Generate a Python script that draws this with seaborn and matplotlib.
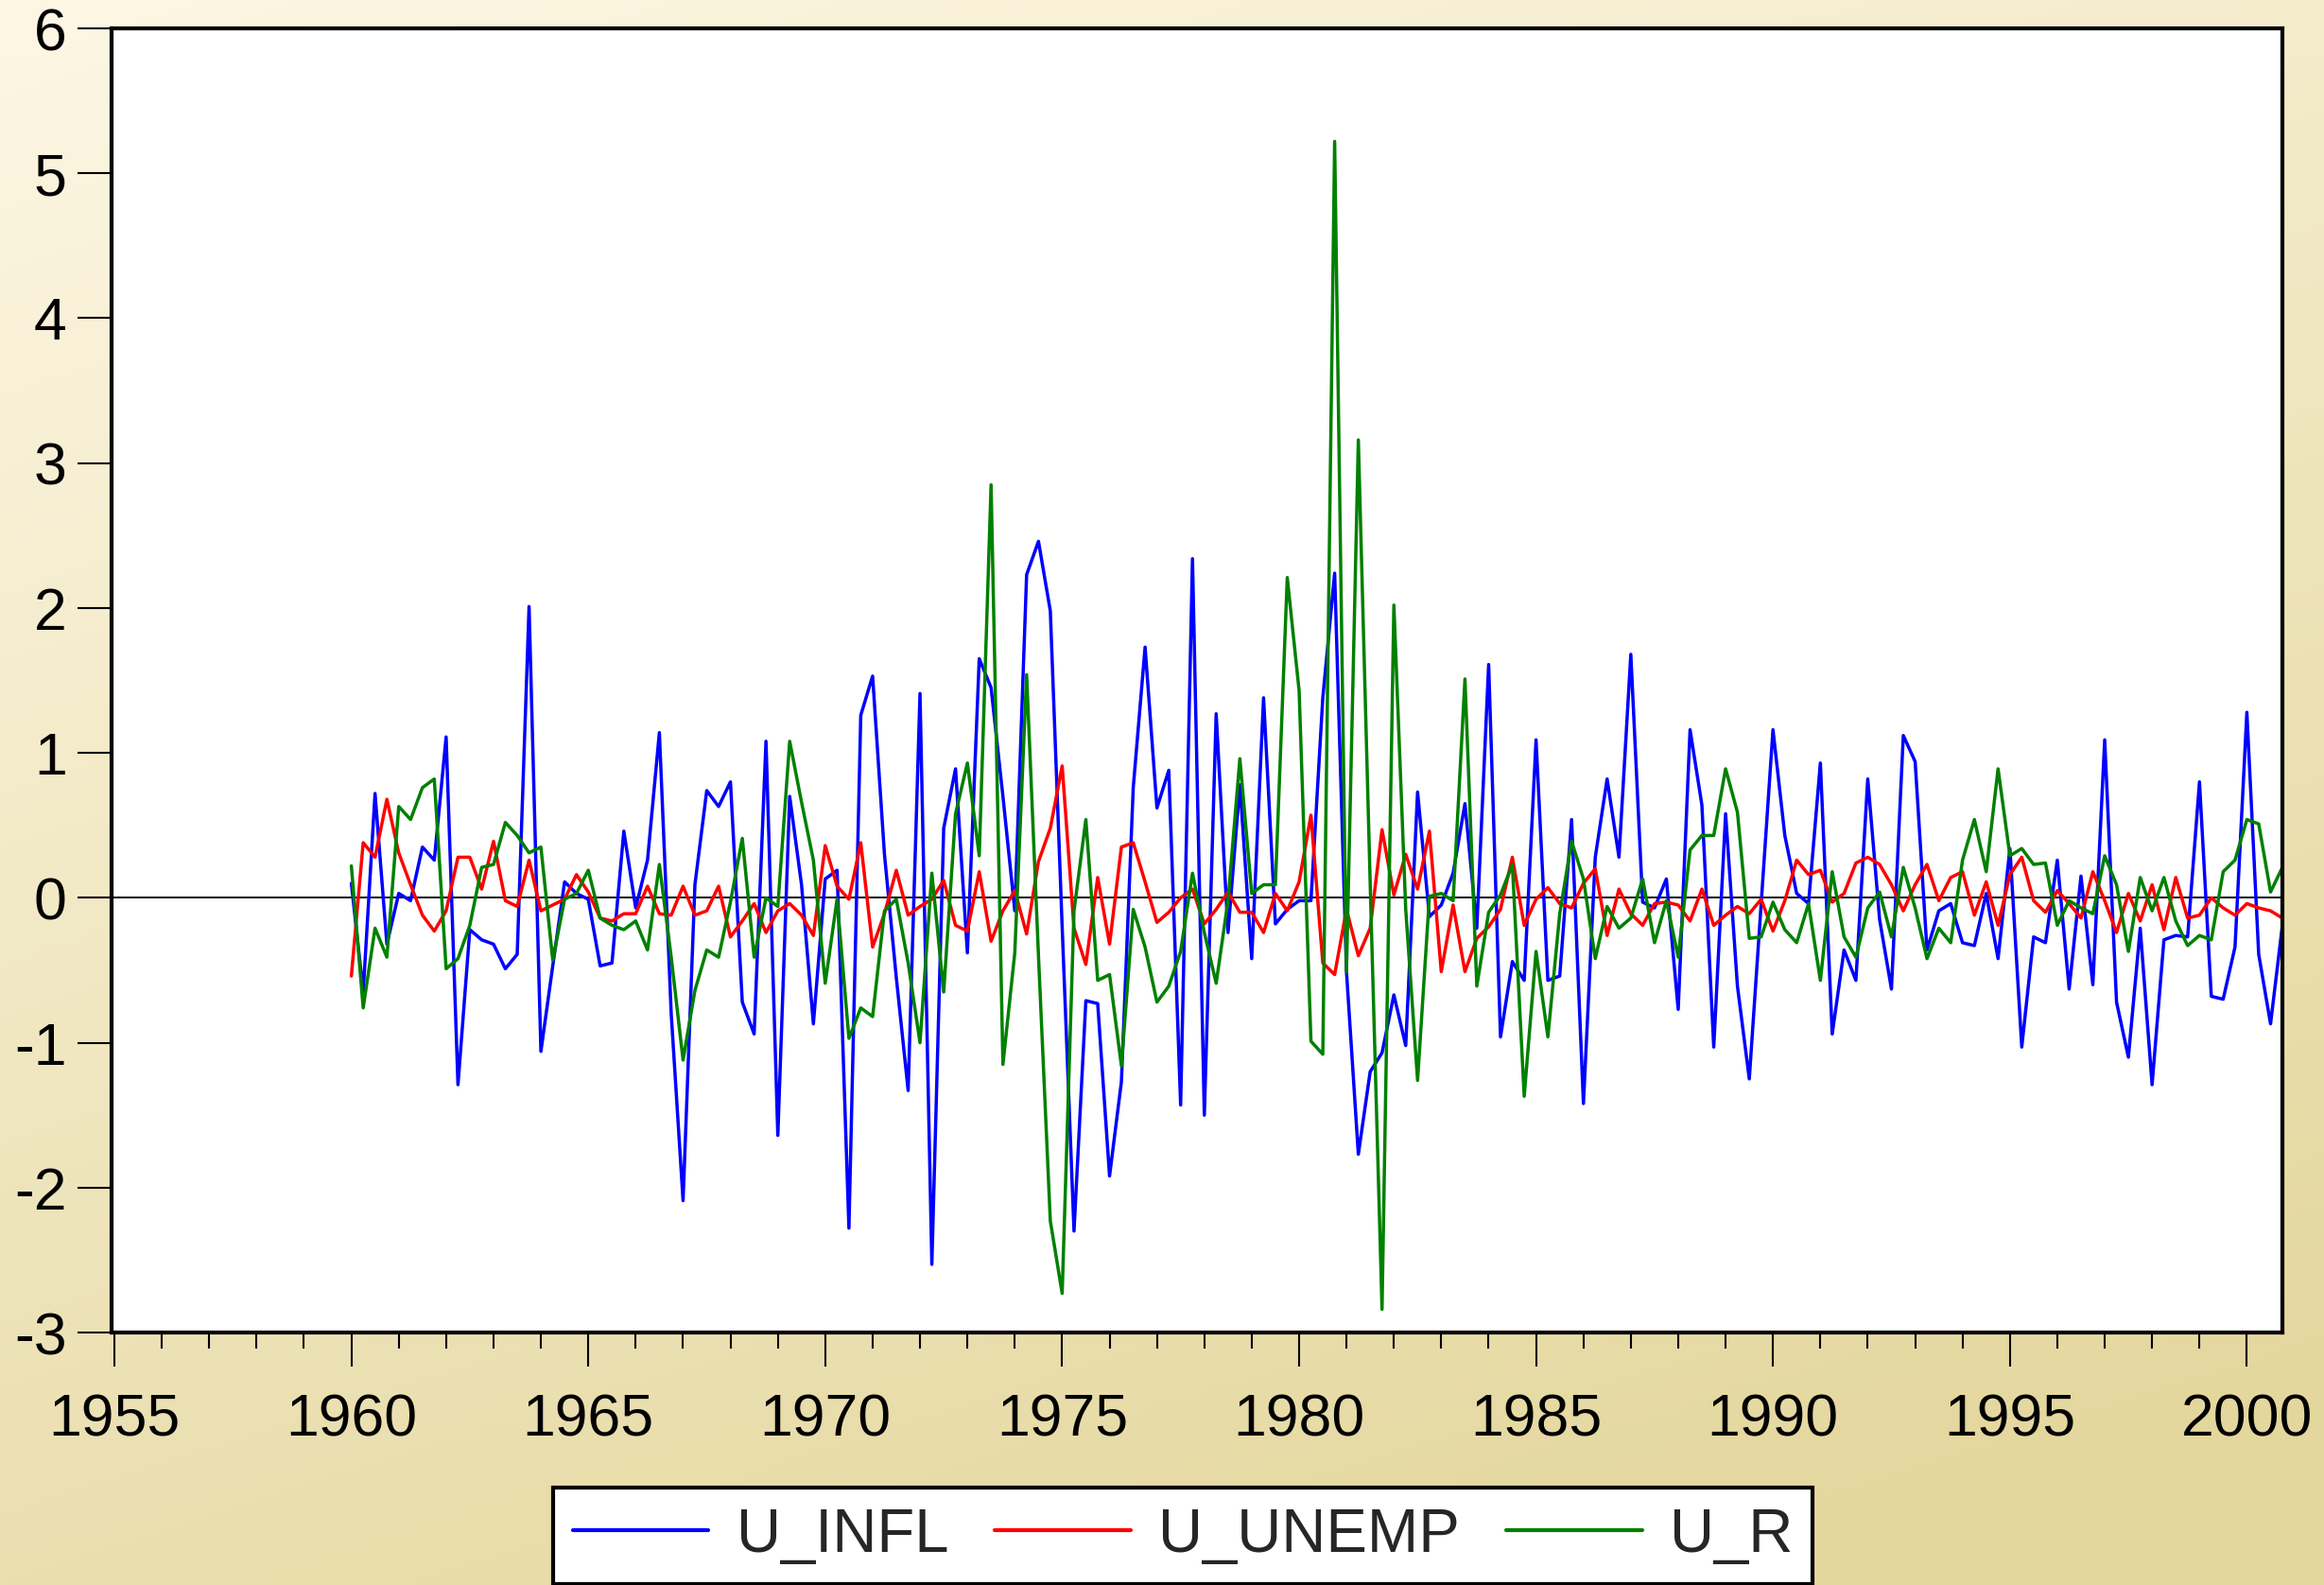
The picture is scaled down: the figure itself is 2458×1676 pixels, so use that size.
import numpy as np
import pandas as pd
import matplotlib
matplotlib.use("Agg")
import matplotlib.pyplot as plt
import seaborn as sns
from matplotlib.lines import Line2D
from matplotlib.ticker import MultipleLocator, FixedLocator

sns.set_theme(style="white")
plt.rcParams["font.family"] = ["Liberation Sans", "DejaVu Sans"]
plt.rcParams["axes.unicode_minus"] = False

# ---------------- data (quarterly, 1960Q1 - 2000Q4) ----------------
start_quarter = "1960Q1"
end_quarter = "2000Q4"
series_names = ["U_INFL", "U_UNEMP", "U_R"]
series_colors = ["#0000FF", "#FF0000", "#008000"]

u_infl = [
    0.10, -0.65, 0.72, -0.32, 0.03, -0.02, 0.35, 0.26, 1.11, -1.29,
    -0.22, -0.29, -0.32, -0.49, -0.39, 2.01, -1.06, -0.47, 0.11, 0.03,
    -0.01, -0.47, -0.45, 0.46, -0.07, 0.26, 1.14, -0.80, -2.09, 0.09,
    0.74, 0.63, 0.80, -0.72, -0.94, 1.08, -1.64, 0.70, 0.09, -0.87,
    0.13, 0.19, -2.28, 1.26, 1.53, 0.30, -0.55, -1.33, 1.41, -2.53,
    0.48, 0.89, -0.38, 1.65, 1.45, 0.70, -0.09, 2.23, 2.46, 1.98,
    -0.20, -2.30, -0.71, -0.73, -1.92, -1.27, 0.76, 1.73, 0.62, 0.88,
    -1.43, 2.34, -1.50, 1.27, -0.24, 0.78, -0.42, 1.38, -0.18, -0.08,
    -0.02, -0.02, 1.38, 2.24, -0.51, -1.77, -1.20, -1.07, -0.67, -1.02,
    0.73, -0.13, -0.05, 0.17, 0.65, -0.21, 1.61, -0.96, -0.44, -0.57,
    1.09, -0.57, -0.54, 0.54, -1.42, 0.28, 0.82, 0.28, 1.68, -0.03,
    -0.07, 0.13, -0.77, 1.16, 0.64, -1.03, 0.58, -0.61, -1.25, -0.05,
    1.16, 0.43, 0.03, -0.04, 0.93, -0.94, -0.36, -0.57, 0.82, -0.15,
    -0.63, 1.12, 0.94, -0.36, -0.09, -0.04, -0.31, -0.33, 0.03, -0.42,
    0.34, -1.03, -0.27, -0.31, 0.26, -0.63, 0.15, -0.60, 1.09, -0.72,
    -1.10, -0.21, -1.29, -0.29, -0.26, -0.27, 0.80, -0.68, -0.70, -0.34,
    1.28, -0.39, -0.87, -0.19,
]

u_unemp = [
    -0.54, 0.38, 0.28, 0.68, 0.31, 0.09, -0.12, -0.23, -0.09, 0.28,
    0.28, 0.06, 0.39, -0.02, -0.06, 0.26, -0.09, -0.05, -0.01, 0.16,
    0.04, -0.14, -0.16, -0.11, -0.11, 0.08, -0.11, -0.12, 0.08, -0.12,
    -0.09, 0.08, -0.27, -0.16, -0.04, -0.24, -0.09, -0.04, -0.12, -0.26,
    0.36, 0.08, -0.01, 0.38, -0.34, -0.11, 0.19, -0.12, -0.06, -0.01,
    0.12, -0.19, -0.23, 0.18, -0.30, -0.09, 0.05, -0.25, 0.25, 0.48,
    0.91, -0.21, -0.46, 0.14, -0.32, 0.35, 0.38, 0.11, -0.17, -0.10,
    0.00, 0.06, -0.18, -0.08, 0.04, -0.10, -0.10, -0.24, 0.03, -0.09,
    0.11, 0.57, -0.45, -0.53, -0.08, -0.40, -0.21, 0.47, 0.02, 0.30,
    0.06, 0.46, -0.51, -0.05, -0.51, -0.28, -0.20, -0.08, 0.28, -0.19,
    -0.01, 0.07, -0.04, -0.07, 0.10, 0.20, -0.26, 0.06, -0.11, -0.19,
    -0.04, -0.03, -0.05, -0.16, 0.06, -0.19, -0.12, -0.06, -0.11, -0.01,
    -0.23, -0.02, 0.26, 0.16, 0.19, -0.03, 0.03, 0.24, 0.28, 0.23,
    0.09, -0.09, 0.09, 0.23, -0.02, 0.14, 0.18, -0.12, 0.11, -0.19,
    0.16, 0.28, -0.02, -0.10, 0.05, -0.04, -0.14, 0.18, -0.02, -0.24,
    0.03, -0.16, 0.09, -0.22, 0.14, -0.14, -0.12, 0.00, -0.07, -0.12,
    -0.04, -0.07, -0.09, -0.14,
]

u_r = [
    0.22, -0.76, -0.21, -0.41, 0.63, 0.54, 0.76, 0.82, -0.49, -0.42,
    -0.19, 0.21, 0.23, 0.52, 0.43, 0.31, 0.35, -0.43, -0.01, 0.03,
    0.19, -0.14, -0.19, -0.22, -0.16, -0.36, 0.23, -0.41, -1.12, -0.64,
    -0.36, -0.41, -0.03, 0.41, -0.41, 0.00, -0.06, 1.08, 0.66, 0.26,
    -0.59, -0.01, -0.97, -0.76, -0.82, -0.09, -0.01, -0.45, -1.00, 0.17,
    -0.65, 0.58, 0.93, 0.29, 2.85, -1.15, -0.38, 1.54, -0.40, -2.23,
    -2.73, -0.09, 0.54, -0.57, -0.53, -1.16, -0.08, -0.34, -0.72, -0.61,
    -0.37, 0.17, -0.24, -0.59, -0.02, 0.96, 0.03, 0.09, 0.09, 2.21,
    1.43, -0.99, -1.08, 5.22, -0.51, 3.16, 0.10, -2.84, 2.02, -0.08,
    -1.26, 0.01, 0.03, -0.02, 1.51, -0.61, -0.10, 0.02, 0.23, -1.37,
    -0.37, -0.96, -0.11, 0.39, 0.13, -0.42, -0.06, -0.21, -0.14, 0.13,
    -0.31, -0.02, -0.41, 0.33, 0.43, 0.43, 0.89, 0.59, -0.28, -0.27,
    -0.03, -0.22, -0.31, -0.04, -0.57, 0.18, -0.27, -0.41, -0.07, 0.04,
    -0.27, 0.21, -0.07, -0.42, -0.21, -0.31, 0.26, 0.54, 0.18, 0.89,
    0.29, 0.34, 0.23, 0.24, -0.19, -0.02, -0.07, -0.11, 0.29, 0.09,
    -0.37, 0.14, -0.09, 0.14, -0.16, -0.33, -0.26, -0.29, 0.18, 0.26,
    0.54, 0.51, 0.04, 0.21,
]

y_ticks = [-3, -2, -1, 0, 1, 2, 3, 4, 5, 6]
x_major = [1955, 1960, 1965, 1970, 1975, 1980, 1985, 1990, 1995, 2000]

# ---------------- build frame ----------------
periods = pd.period_range(start_quarter, end_quarter, freq="Q")
t = periods.year + (periods.quarter - 1) / 4.0
wide = pd.DataFrame({"date": t, "U_INFL": u_infl, "U_UNEMP": u_unemp, "U_R": u_r})
long = wide.melt(id_vars="date", var_name="series", value_name="value")

# ---------------- figure ----------------
W, H, DPI = 2458, 1676, 100
fig = plt.figure(figsize=(W / DPI, H / DPI), dpi=DPI)

# gradient background
bg = fig.add_axes([0, 0, 1, 1], zorder=-10)
ny, nx = 200, 300
yy, xx = np.mgrid[0:1:ny * 1j, 0:1:nx * 1j]
f = np.clip(0.75 * yy + 0.35 * xx, 0, 1)
c0 = np.array([253, 247, 228]) / 255.0
c1 = np.array([228, 215, 158]) / 255.0
img = c0[None, None, :] * (1 - f[..., None]) + c1[None, None, :] * f[..., None]
bg.imshow(img, aspect="auto", extent=[0, 1, 0, 1], origin="upper")
bg.axis("off")

ax = fig.add_axes([118 / W, 1 - 1409 / H, (2414 - 118) / W, (1409 - 30) / H])
ax.set_facecolor("white")

ax.axhline(0, color="black", lw=1.4, zorder=1)
sns.lineplot(data=long, x="date", y="value", hue="series", hue_order=series_names,
             palette=dict(zip(series_names, series_colors)), linewidth=2.5,
             estimator=None, legend=False, ax=ax, zorder=2)

ax.set_xlim(1954.94, 2000.75)
ax.set_ylim(-3, 6)
ax.xaxis.set_major_locator(FixedLocator(x_major))
ax.xaxis.set_minor_locator(MultipleLocator(1))
ax.yaxis.set_major_locator(FixedLocator(y_ticks))
ax.set_xticklabels([str(v) for v in x_major])
ax.set_yticklabels([str(v) for v in y_ticks])
ax.set_xlabel("")
ax.set_ylabel("")

ax.tick_params(axis="both", which="major", direction="out", length=26, width=1.5,
               color="black", labelsize=45, labelcolor="black", pad=8)
ax.tick_params(axis="x", which="major", pad=20)
ax.tick_params(axis="x", which="minor", direction="out", length=12, width=1.5,
               color="black", bottom=True)
ax.tick_params(axis="x", which="major", bottom=True)
ax.tick_params(axis="y", which="major", left=True)
for s in ax.spines.values():
    s.set_color("black")
    s.set_linewidth(3)

handles = [Line2D([0], [0], color=c, lw=3) for c in series_colors]
leg = fig.legend(handles, series_names, loc="center", bbox_to_anchor=(0.509, 0.031),
                 ncol=3, fontsize=47, frameon=True, fancybox=False, framealpha=1,
                 handlelength=2.2, handletextpad=0.45, columnspacing=0.75,
                 borderpad=0.32, edgecolor="black")
leg.get_frame().set_linewidth(3)
leg.get_frame().set_facecolor("white")

fig.savefig("out.png", dpi=DPI)
